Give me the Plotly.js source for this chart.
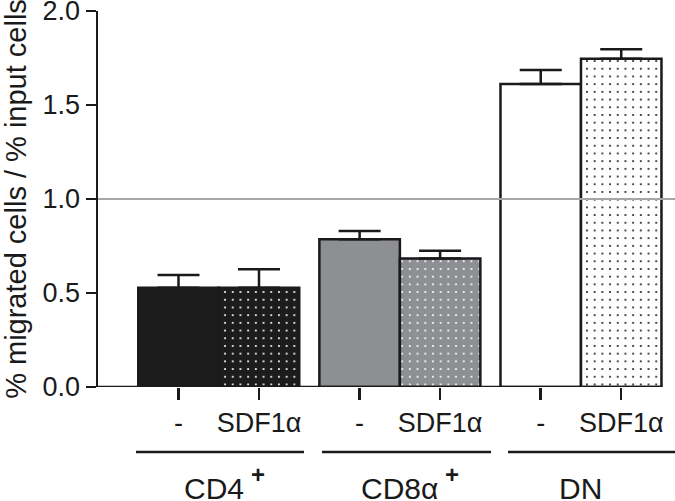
<!DOCTYPE html>
<html>
<head>
<meta charset="utf-8">
<script src="https://cdn.plot.ly/plotly-3.0.1.min.js"></script>
<style>html,body{margin:0;padding:0;background:#fff;}#chart{width:675px;height:501px;}</style>
</head>
<body>
<div id="chart"></div>
<script>
// ---- data ----
const groups = ['CD4', 'CD8α', 'DN'];
const treatments = ['-', 'SDF1α'];
const meanCtrl = [0.528, 0.786, 1.612];
const meanSdf  = [0.528, 0.683, 1.746];
const errCtrl  = [0.068, 0.044, 0.074];
const errSdf   = [0.098, 0.042, 0.050];
const groupSup = ['+', '+', ''];

// ---- styles ----
const fills = ['#1c1c1c', '#8e8f92', '#ffffff'];
const dots  = ['#ffffff', '#ffffff', '#1c1c1c'];
const ink = '#1a1a1a';
const FONT = 'Liberation Sans, Arial, sans-serif';

const groupStep = 2.25;
const xCtrl = groups.map((g, i) => i * groupStep);
const xSdf  = groups.map((g, i) => i * groupStep + 1);

const errStyle = arr => ({type: 'data', array: arr, arrayminus: arr.map(() => 0),
  symmetric: false, color: ink, thickness: 2.5, width: 21});

const traces = [
  {type: 'bar', x: xCtrl, y: meanCtrl, width: 1, name: treatments[0],
   marker: {color: fills, line: {color: ink, width: 2.5}},
   error_y: errStyle(errCtrl), hoverinfo: 'y'}
];
groups.forEach((g, i) => {
  traces.push({type: 'bar', x: [xSdf[i]], y: [meanSdf[i]], width: 1, name: treatments[1] + ' ' + g,
    marker: {color: fills[i], line: {color: ink, width: 2.5},
      pattern: {shape: '.', size: 7.7, solidity: 0.06, fgcolor: dots[i], bgcolor: fills[i], fgopacity: 1}},
    error_y: errStyle([errSdf[i]]), hoverinfo: 'y'});
});

const tickvals = [], ticktext = [];
groups.forEach((g, i) => { tickvals.push(xCtrl[i], xSdf[i]); ticktext.push(treatments[0], treatments[1]); });

const xMin = -1, xMax = 6.168;
const plotW = 577, plotL = 98, plotH = 376, plotB = 387;
const px2paper = p => (p - plotL) / plotW;
const py2paper = p => (plotB - p) / plotH;

const shapes = [
  {type: 'line', xref: 'paper', yref: 'y', x0: 0, x1: 1.0, y0: 1, y1: 1,
   line: {color: '#a6a6a6', width: 2}, layer: 'above'},
  {type: 'line', xref: 'x', yref: 'y', x0: xMin, x1: xSdf[2] + 0.5, y0: 0, y1: 0,
   line: {color: ink, width: 2.5}, layer: 'above'}
];
const annotations = [];
const lineSpans = [[136, 304], [322, 491], [508, 676]];
const labelRight = [246, 440, 604];
groups.forEach((g, i) => {
  shapes.push({type: 'line', xref: 'paper', yref: 'paper',
    x0: px2paper(lineSpans[i][0]), x1: px2paper(lineSpans[i][1]),
    y0: py2paper(452), y1: py2paper(452), line: {color: ink, width: 2.5}});
  annotations.push({xref: 'paper', yref: 'paper', x: px2paper(labelRight[i]), y: py2paper(488),
    text: g, showarrow: false, xanchor: 'right', yanchor: 'middle',
    font: {family: FONT, size: 30, color: ink}});
  if (groupSup[i]) {
    annotations.push({xref: 'paper', yref: 'paper', x: px2paper(labelRight[i] + 3), y: py2paper(474),
      text: '<b>' + groupSup[i] + '</b>', showarrow: false, xanchor: 'left', yanchor: 'middle',
      font: {family: FONT, size: 24, color: ink}});
  }
});

const layout = {
  width: 675, height: 501,
  margin: {l: plotL, r: 0, t: 11, b: 114},
  paper_bgcolor: '#fff', plot_bgcolor: '#fff',
  showlegend: false,
  bargap: 0, barmode: 'overlay',
  font: {family: FONT, color: ink},
  xaxis: {range: [xMin, xMax], tickvals: tickvals, ticktext: ticktext,
    showgrid: false, zeroline: false, showline: false,
    ticks: 'outside', ticklen: 12, tickwidth: 2.5, tickcolor: ink,
    tickfont: {family: FONT, size: 27, color: ink}, fixedrange: true},
  yaxis: {range: [0, 2], tickvals: [0, 0.5, 1, 1.5, 2], ticktext: ['0.0', '0.5', '1.0', '1.5', '2.0'],
    showgrid: false, zeroline: false, showline: true, linecolor: ink, linewidth: 2.5,
    ticks: 'outside', ticklen: 10, tickwidth: 2.5, tickcolor: ink, ticklabeloverflow: 'allow',
    tickfont: {family: FONT, size: 27, color: ink},
    title: {text: '% migrated cells / % input cells', font: {family: FONT, size: 29, color: ink}, standoff: 12},
    fixedrange: true},
  shapes: shapes,
  annotations: annotations
};

Plotly.newPlot('chart', traces, layout, {displayModeBar: false, staticPlot: true});
</script>
</body>
</html>
